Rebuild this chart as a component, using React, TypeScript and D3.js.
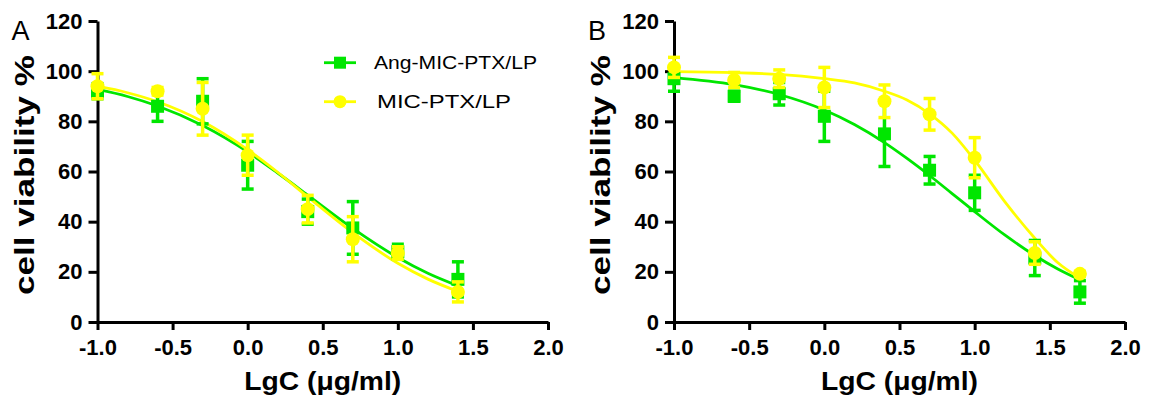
import React, { useRef, useEffect } from 'react'
import * as d3 from 'd3'

// measured doses (log10 of µg/ml)
const doseA = [-1, -0.6, -0.3, 0, 0.4, 0.7, 1.0, 1.4]
const doseB = [-1, -0.6, -0.3, 0, 0.4, 0.7, 1.0, 1.4, 1.7]

// panel A points (mean, sd)
const angA = [92, 86, 88, 62.5, 44, 37.5, 28, 17]
const angAErr = [3, 6, 9, 9.5, 5, 10.5, 3, 7]
const micA = [94, 92, 85, 66.5, 45, 33, 27.5, 12]
const micAErr = [5, 1.5, 10.5, 8, 5.5, 9, 2.5, 4]

// panel B points
const angB = [97, 90, 91, 82, 75, 60.5, 51.5, 25.5, 12]
const angBErr = [5, 2, 4.5, 10, 13, 5.5, 7, 7, 4.5]
const micB = [101.5, 96.5, 97, 93.5, 88, 82.8, 65.5, 27.5, 19.2]
const micBErr = [4, 3, 3.5, 8, 6.5, 6.3, 8, 4.5, 1]

// fitted curves
const fitXA = [-1, -0.8, -0.6, -0.3, 0, 0.2, 0.4, 0.7, 1.0, 1.2, 1.4]
const fitAngA = [92.7, 89.9, 86.1, 78.3, 67.8, 59.4, 50.6, 37.3, 25.7, 19.4, 14.4]
const fitMicA = [94.0, 91.4, 87.8, 79.9, 68.7, 59.7, 49.9, 35.6, 23.4, 17.1, 12.2]

const fitXB = [-1, -0.6, -0.3, 0, 0.2, 0.4, 0.55, 0.7, 0.85, 1.0, 1.2, 1.4, 1.55, 1.7]
const fitAngB = [97.4, 94.6, 90.7, 84.5, 78.7, 71.5, 65.2, 58.4, 51.2, 44, 34.7, 26.5, 21.2, 16.8]
const fitMicB = [99.8, 99.4, 98.7, 97, 95.3, 92, 88.5, 83, 75.3, 64.5, 48, 33.4, 23.8, 17.5]

const xTicks = [-1, -0.5, 0, 0.5, 1, 1.5, 2]
const yTicks = [0, 20, 40, 60, 80, 100, 120]
const seriesNames = ['Ang-MIC-PTX/LP', 'MIC-PTX/LP']

const GREEN = '#00e600'
const YELLOW = '#ffff00'
const FONT = '"Liberation Sans", Arial, sans-serif'

export default function App() {
  const visEl = useRef(null)
  const width = 1158
  const height = 400

  useEffect(() => {
    const root = d3.select(visEl.current)
    root.selectAll('*').remove()
    const svg = root.append('svg')
      .attr('width', width)
      .attr('height', height)
      .style('position', 'absolute')
      .style('left', 0)
      .style('top', 0)
      .style('font-family', FONT)

    const yScale = d3.scaleLinear().domain([0, 120]).range([322, 21])

    const panels = [
      { letter: 'A', x0: 97.5, x1: 548, dose: doseA, ang: angA, angErr: angAErr, mic: micA, micErr: micAErr,
        fitX: fitXA, fitAng: fitAngA, fitMic: fitMicA, legend: true },
      { letter: 'B', x0: 674, x1: 1125, dose: doseB, ang: angB, angErr: angBErr, mic: micB, micErr: micBErr,
        fitX: fitXB, fitAng: fitAngB, fitMic: fitMicB, legend: false },
    ]

    panels.forEach(p => {
      const xScale = d3.scaleLinear().domain([-1, 2]).range([p.x0, p.x1])
      const g = svg.append('g')

      const yAxis = d3.axisLeft(yScale).tickValues(yTicks).tickSize(9).tickSizeOuter(0)
        .tickPadding(6).tickFormat(d => String(d))
      const yG = g.append('g').attr('transform', `translate(${p.x0},0)`).call(yAxis)

      const xAxis = d3.axisBottom(xScale).tickValues(xTicks).tickSize(8).tickSizeOuter(0)
        .tickPadding(9).tickFormat(d => (+d).toFixed(1))
      const xG = g.append('g').attr('transform', `translate(0,${yScale(0)})`).call(xAxis)

      ;[yG, xG].forEach(a => {
        a.select('.domain').attr('stroke-width', 3).attr('stroke', '#000')
        a.selectAll('.tick line').attr('stroke-width', 3).attr('stroke', '#000')
        a.selectAll('.tick text').attr('font-size', 22).attr('font-weight', 'bold')
          .attr('font-family', FONT).attr('fill', '#000')
      })

      // axis titles
      g.append('text')
        .attr('transform', `translate(${p.x0 - 64},175) rotate(-90)`)
        .attr('text-anchor', 'middle')
        .attr('font-size', 27).attr('font-weight', 'bold')
        .attr('textLength', 240).attr('lengthAdjust', 'spacingAndGlyphs')
        .text('cell viability %')

      g.append('text')
        .attr('x', (p.x0 + p.x1) / 2).attr('y', 390)
        .attr('text-anchor', 'middle')
        .attr('font-size', 25).attr('font-weight', 'bold')
        .attr('textLength', 157).attr('lengthAdjust', 'spacingAndGlyphs')
        .text('LgC (μg/ml)')

      g.append('text')
        .attr('x', p.x0 - 86).attr('y', 40)
        .attr('font-size', 27)
        .text(p.letter)

      const curve = d3.line<number>()
        .x((d, i) => xScale(p.fitX[i]))
        .y(d => yScale(d))
        .curve(d3.curveMonotoneX)

      g.append('path').attr('d', curve(p.fitAng)).attr('fill', 'none')
        .attr('stroke', GREEN).attr('stroke-width', 2.8)
      g.append('path').attr('d', curve(p.fitMic)).attr('fill', 'none')
        .attr('stroke', YELLOW).attr('stroke-width', 2.8)

      const drawSeries = (vals, errs, color, shape) => {
        const s = g.append('g')
        vals.forEach((v, i) => {
          const cx = xScale(p.dose[i])
          const top = yScale(v + errs[i])
          const bot = yScale(v - errs[i])
          s.append('line').attr('x1', cx).attr('x2', cx).attr('y1', top).attr('y2', bot)
            .attr('stroke', color).attr('stroke-width', 3.5)
          ;[top, bot].forEach(yy => {
            s.append('line').attr('x1', cx - 6).attr('x2', cx + 6).attr('y1', yy).attr('y2', yy)
              .attr('stroke', color).attr('stroke-width', 3.5)
          })
          if (shape === 'square') {
            s.append('rect').attr('x', cx - 6.5).attr('y', yScale(v) - 6.5)
              .attr('width', 13).attr('height', 13).attr('fill', color)
          } else {
            s.append('circle').attr('cx', cx).attr('cy', yScale(v)).attr('r', 7).attr('fill', color)
          }
        })
      }
      drawSeries(p.ang, p.angErr, GREEN, 'square')
      drawSeries(p.mic, p.micErr, YELLOW, 'circle')

      if (p.legend) {
        const rows = [
          { name: seriesNames[0], color: GREEN, shape: 'square', y: 62.7, len: 163 },
          { name: seriesNames[1], color: YELLOW, shape: 'circle', y: 101.7, len: 134 },
        ]
        rows.forEach(r => {
          const lg = g.append('g')
          lg.append('line').attr('x1', 324).attr('x2', 356).attr('y1', r.y).attr('y2', r.y)
            .attr('stroke', r.color).attr('stroke-width', 2.8)
          if (r.shape === 'square') {
            lg.append('rect').attr('x', 340 - 6).attr('y', r.y - 6).attr('width', 12).attr('height', 12)
              .attr('fill', r.color)
          } else {
            lg.append('circle').attr('cx', 340).attr('cy', r.y).attr('r', 6.5).attr('fill', r.color)
          }
          lg.append('text').attr('x', r.shape === 'square' ? 374 : 377).attr('y', r.y + 6.5)
            .attr('font-size', 19)
            .attr('textLength', r.len).attr('lengthAdjust', 'spacingAndGlyphs')
            .text(r.name)
        })
      }
    })
  }, [])

  return (
    <div>
      <div ref={visEl}></div>
    </div>
  )
}
